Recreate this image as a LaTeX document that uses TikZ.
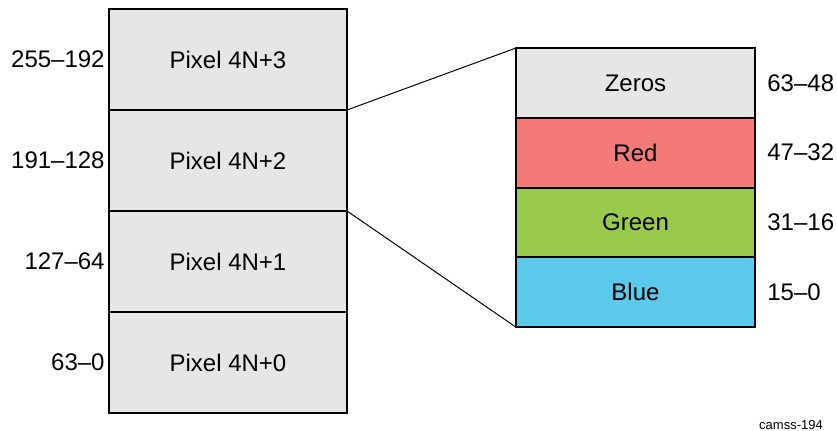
\documentclass[tikz,border=0pt]{standalone}
\usepackage{fontspec}
\setmainfont{Liberation Sans}
\usetikzlibrary{positioning}

\definecolor{cellgray}{HTML}{E6E6E6}
\definecolor{cellred}{HTML}{F47A78}
\definecolor{cellgreen}{HTML}{9ACA4C}
\definecolor{cellblue}{HTML}{5CC9EC}

\begin{document}
\begin{tikzpicture}[
        x=0.5pt, y=-0.5pt,
        pixcell/.style={draw, line width=1pt, fill=cellgray, outer sep=0pt, minimum width=119pt, minimum height=50.5pt, font=\fontsize{12}{14}\selectfont},
        bitcell/.style={draw, line width=1pt, outer sep=0pt, minimum width=119.5pt, minimum height=34.9pt, font=\fontsize{12}{14}\selectfont},
        rangelbl/.style={inner sep=0pt, font=\fontsize{12}{14}\selectfont},
        zoomline/.style={line width=0.5pt}
    ]
        \useasboundingbox (0,0) rectangle (837,431);

        % --- pixel column (256 bits) ---
        \node[pixcell] (p3) at (228, 59.5) {Pixel 4N+3};
        \node[pixcell, below=0pt of p3] (p2) {Pixel 4N+2};
        \node[pixcell, below=0pt of p2] (p1) {Pixel 4N+1};
        \node[pixcell, below=0pt of p1] (p0) {Pixel 4N+0};

        \node[rangelbl, anchor=east] (r3) at ([xshift=-2pt]p3.west) {255--192};
        \node[rangelbl, anchor=east] (r2) at ([xshift=-2pt]p2.west) {191--128};
        \node[rangelbl, anchor=east] (r1) at ([xshift=-2pt]p1.west) {127--64};
        \node[rangelbl, anchor=east] (r0) at ([xshift=-2pt]p0.west) {63--0};

        % --- one pixel expanded (64 bits) ---
        \node[bitcell, fill=cellgray] (zeros) at (635.5, 82.9) {Zeros};
        \node[bitcell, fill=cellred, below=0pt of zeros] (red) {Red};
        \node[bitcell, fill=cellgreen, below=0pt of red] (green) {Green};
        \node[bitcell, fill=cellblue, below=0pt of green] (blue) {Blue};

        \node[rangelbl, anchor=west] (b3) at ([xshift=6pt]zeros.east) {63--48};
        \node[rangelbl, anchor=west] (b2) at ([xshift=6pt]red.east) {47--32};
        \node[rangelbl, anchor=west] (b1) at ([xshift=6pt]green.east) {31--16};
        \node[rangelbl, anchor=west] (b0) at ([xshift=6pt]blue.east) {15--0};

        % zoom lines
        \draw[zoomline] (p2.north east) -- (zeros.north west);
        \draw[zoomline] (p2.south east) -- (blue.south west);

        \node[font=\fontsize{6.5}{8}\selectfont] (tag) at (791, 425) {camss-194};
    \end{tikzpicture}
\end{document}
